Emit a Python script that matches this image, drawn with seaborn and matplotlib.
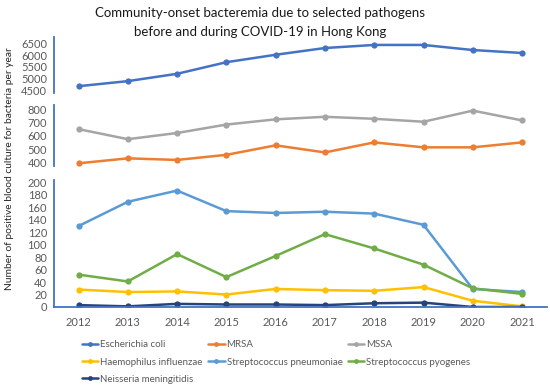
import numpy as np
import pandas as pd
import matplotlib
matplotlib.use('Agg')
import matplotlib.pyplot as plt
import seaborn as sns
from matplotlib.ticker import FixedLocator

# data
years = [2012, 2013, 2014, 2015, 2016, 2017, 2018, 2019, 2020, 2021]
e_coli = [4685, 4900, 5210, 5700, 6015, 6300, 6430, 6430, 6215, 6090]
mrsa = [395, 432, 420, 458, 529, 476, 551, 514, 514, 551]
mssa = [650, 575, 621, 684, 723, 742, 727, 705, 788, 715]
h_influenzae = [28, 24, 25, 20, 29, 27, 26, 32, 10, 1]
s_pneumoniae = [130, 169, 187, 154, 151, 153, 150, 132, 29, 24]
s_pyogenes = [52, 41, 85, 48, 82, 117, 94, 68, 30, 21]
n_meningitidis = [3, 1, 5, 4, 4, 3, 6, 7, 0, 0]

names = ['Escherichia coli', 'MRSA', 'MSSA', 'Haemophilus influenzae',
         'Streptococcus pneumoniae', 'Streptococcus pyogenes', 'Neisseria meningitidis']
series = [e_coli, mrsa, mssa, h_influenzae, s_pneumoniae, s_pyogenes, n_meningitidis]
colors = ['#4472C4', '#ED7D31', '#A5A5A5', '#FFC000', '#5B9BD5', '#70AD47', '#264478']

rows = []
for n, vals in zip(names, series):
    for i, (y, v) in enumerate(zip(years, vals)):
        rows.append({'pos': i, 'year': y, 'pathogen': n, 'count': v})
df = pd.DataFrame(rows)
pal = dict(zip(names, colors))

sns.set_style('white')
plt.rcParams['font.family'] = ['Lato', 'DejaVu Sans']

axis_blue = '#4472C4'
grey = '#595959'

fig = plt.figure(figsize=(5.5, 3.86), dpi=100)
left, width = 0.098, 0.896
ax_top = fig.add_axes([left, 0.758, width, 0.147])
ax_mid = fig.add_axes([left, 0.570, width, 0.158])
ax_bot = fig.add_axes([left, 0.2047, width, 0.329])

panels = [
    (ax_top, names[:1], (4380, 6780), [4500, 5000, 5500, 6000, 6500]),
    (ax_mid, names[1:3], (375, 830), [400, 500, 600, 700, 800]),
    (ax_bot, names[3:], (0, 204), list(range(0, 201, 20))),
]

for ax, sel, ylim, yt in panels:
    sub = df[df['pathogen'].isin(sel)]
    sns.lineplot(data=sub, x='pos', y='count', hue='pathogen', hue_order=sel,
                 palette=pal, marker='o', markersize=4.5, markeredgewidth=0,
                 linewidth=1.8, ax=ax, legend=False)
    ax.set_xlim(-0.5, 9.5)
    ax.set_ylim(*ylim)
    ax.set_yticks(yt)
    ax.set_xlabel('')
    ax.set_ylabel('')
    for s in ['top', 'right', 'bottom']:
        ax.spines[s].set_visible(False)
    ax.spines['left'].set_color(axis_blue)
    ax.spines['left'].set_linewidth(1.3)
    ax.tick_params(axis='y', direction='out', length=3, width=1, color=axis_blue,
                   labelsize=8, labelcolor=grey, pad=2)
    ax.set_xticks([])
    ax.set_facecolor('none')

ax_bot.spines['bottom'].set_visible(True)
ax_bot.spines['bottom'].set_color(axis_blue)
ax_bot.spines['bottom'].set_linewidth(1.3)
ax_bot.set_xticks(range(len(years)))
ax_bot.set_xticklabels([str(y) for y in years])
ax_bot.xaxis.set_minor_locator(FixedLocator(np.arange(-0.5, 10, 1)))
ax_bot.tick_params(axis='x', which='major', length=0, labelsize=8, labelcolor=grey, pad=7)
ax_bot.tick_params(axis='x', which='minor', direction='out', length=4, width=1, color=axis_blue)

fig.text(0.473, 0.983, 'Community-onset bacteremia due to selected pathogens\nbefore and during COVID-19 in Hong Kong',
         ha='center', va='top', fontsize=9.5, color='#1a1a1a', linespacing=1.7)
fig.text(0.018, 0.562, 'Number of positive blood culture for bacteria per year',
         rotation=90, ha='center', va='center', fontsize=7.4, color='#262626')

# legend, row-major order in three columns
handles = [plt.Line2D([], [], color=c, marker='o', markersize=3.5, markeredgewidth=0, linewidth=1.8)
           for c in colors]
order = [0, 3, 6, 1, 4, 2, 5]
fig.legend([handles[i] for i in order], [names[i] for i in order], ncol=3,
           loc='upper left', bbox_to_anchor=(0.14, 0.131), frameon=False,
           fontsize=7, labelcolor=grey, handlelength=1.7, handletextpad=0.2,
           columnspacing=0.55, labelspacing=0.85, borderpad=0)

fig.savefig('out.png', dpi=100)
